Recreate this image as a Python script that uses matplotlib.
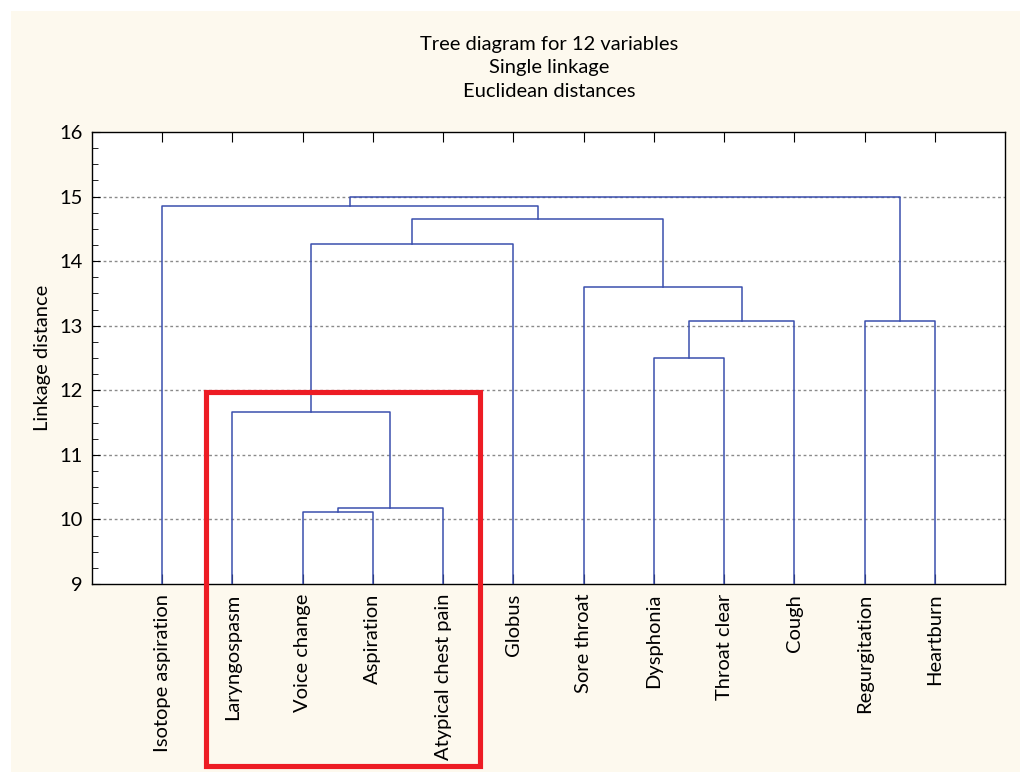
import matplotlib.pyplot as plt
from matplotlib.patches import Rectangle
from matplotlib.ticker import MultipleLocator

plt.rcParams['font.family'] = ['Lato', 'DejaVu Sans']

labels = ['Isotope aspiration', 'Laryngospasm', 'Voice change', 'Aspiration',
          'Atypical chest pain', 'Globus', 'Sore throat', 'Dysphonia',
          'Throat clear', 'Cough', 'Regurgitation', 'Heartburn']
# merges: (left node, right node, linkage distance); new clusters get ids 12, 13, ...
merge_left = [2, 12, 1, 7, 15, 10, 6, 14, 19, 0, 21]
merge_right = [3, 4, 13, 8, 9, 11, 16, 5, 18, 20, 17]
merge_height = [10.12, 10.17, 11.66, 12.50, 13.08, 13.08, 13.60, 14.26, 14.66, 14.86, 15.00]

blue = '#3b4fae'
fs = 14.5
fig = plt.figure(figsize=(10.21, 7.72), dpi=100, facecolor='white')
fig.patches.append(Rectangle((11 / 1021, 0), 1009 / 1021, 761 / 772, transform=fig.transFigure,
                             facecolor='#fdf9ee', edgecolor='none', zorder=-10))
ax = fig.add_axes([92 / 1021, 188 / 772, 913 / 1021, 452 / 772])
ax.set_facecolor('white')

n = len(labels)
xpos = {i: i + 1 for i in range(n)}
ypos = {i: 9.0 for i in range(n)}
for k, (a, b, h) in enumerate(zip(merge_left, merge_right, merge_height)):
    xa, xb = xpos[a], xpos[b]
    ax.plot([xa, xa, xb, xb], [ypos[a], h, h, ypos[b]], color=blue, lw=1.1, zorder=3)
    xpos[n + k] = (xa + xb) / 2
    ypos[n + k] = h

ax.set_xlim(0, 13)
ax.set_ylim(9, 16)
ax.set_xticks(range(1, n + 1))
ax.set_xticklabels(labels, rotation=90, fontsize=fs)
ax.yaxis.set_major_locator(MultipleLocator(1))
ax.yaxis.set_minor_locator(MultipleLocator(0.25))
ax.tick_params(axis='y', which='major', direction='in', length=6, labelsize=fs, pad=7)
ax.tick_params(axis='y', which='minor', direction='in', length=4)
ax.tick_params(axis='x', direction='in', length=7, top=True, pad=7)
for y in range(10, 16):
    ax.axhline(y, color='#8a8a8a', lw=1, ls=(0, (2, 2)), zorder=1)
for s in ax.spines.values():
    s.set_linewidth(1.0)

ax.set_ylabel('Linkage distance', fontsize=fs, labelpad=6)
fig.text(549 / 1021, 1 - 68 / 772, 'Tree diagram for 12 variables\nSingle linkage\nEuclidean distances',
         ha='center', va='center', fontsize=fs, linespacing=1.45)

# highlight box around the cluster
ax.add_patch(Rectangle((1.63, 6.18), 3.9, 5.8, fill=False, edgecolor='#ed1c24',
                       lw=3.7, clip_on=False, zorder=5))

fig.savefig('out.png', dpi=100, facecolor=fig.get_facecolor())
